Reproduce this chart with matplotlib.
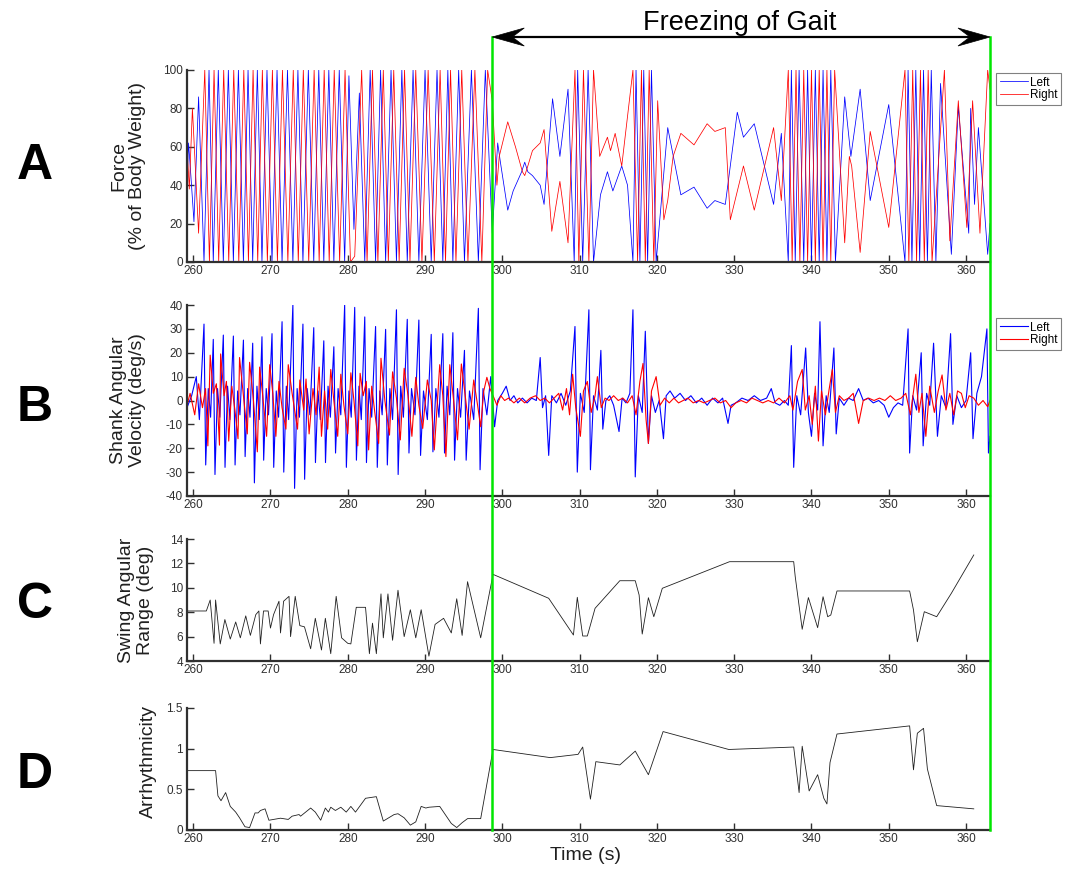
import numpy as np
import matplotlib.pyplot as plt
from matplotlib.lines import Line2D
from matplotlib.patches import Polygon
from matplotlib.transforms import IdentityTransform

plt.rcParams["font.family"] = ["Liberation Sans", "DejaVu Sans"]
plt.rcParams["axes.unicode_minus"] = False

T_START, T_END = 259.2, 363.1
FOG_START, FOG_END = 298.7, 363.1

# ---- A: vertical force, % body weight (vertices of each trace) ----
left_force = [
    (259.2, 40), (259.4, 62), (259.7, 45), (260.1, 21), (260.7, 86), (261.4, 0),
    (262.05, 100), (262.6, 0), (263.25, 100), (263.9, 0), (264.55, 100), (265.2, 0),
    (265.85, 100), (266.5, 0), (267.1, 100), (267.7, 0), (268.3, 100), (268.9, 0),
    (269.55, 100), (270.2, 0), (270.85, 100), (271.5, 0), (272.2, 100), (272.9, 0),
    (273.55, 100), (274.2, 0), (274.9, 100), (275.6, 0), (276.25, 100), (276.9, 0),
    (277.55, 100), (278.2, 0), (278.9, 100), (279.6, 0), (280.15, 97), (280.8, 17),
    (281.5, 88), (282.2, 0), (282.9, 100), (283.6, 0), (284.25, 100), (284.9, 0),
    (285.6, 100), (286.3, 0), (287.0, 100), (287.7, 0), (288.45, 100), (289.2, 0),
    (290.0, 100), (290.8, 0), (291.55, 100), (292.3, 0), (292.95, 100), (293.6, 0),
    (294.35, 100), (295.1, 0), (296.0, 100), (296.9, 0), (297.8, 100), (298.7, 15),
    (299.4, 62), (299.75, 52), (300.7, 27), (301.4, 37), (302.5, 47), (302.9, 52),
    (303.3, 47), (303.9, 45), (304.9, 40), (305.4, 30), (306.5, 85), (307.45, 55),
    (308.5, 90), (309.3, 0), (309.75, 100), (310.4, 0), (311.1, 100), (311.8, 0),
    (312.7, 35), (313.6, 47), (314.3, 37), (315.45, 50), (316.2, 40), (316.9, 0),
    (317.3, 100), (317.8, 0), (318.3, 100), (318.8, 0), (319.3, 100), (319.9, 0),
    (321.4, 70), (323.1, 35), (324.8, 39), (326.5, 28), (327.5, 32), (328.85, 30),
    (330.4, 78), (331.2, 65), (332.6, 72), (335.1, 30), (336.1, 67), (337.0, 0),
    (337.4, 100), (337.9, 0), (338.4, 100), (339.0, 0), (339.5, 100), (340.0, 0),
    (340.5, 100), (341.0, 0), (341.5, 100), (342.0, 0), (342.5, 100), (343.1, 0),
    (344.3, 86), (345.1, 55), (346.3, 90), (347.6, 32), (350.0, 82), (352.1, 0),
    (352.5, 100), (353.0, 0), (353.5, 100), (354.0, 0), (354.5, 100), (355.0, 0),
    (355.5, 100), (356.1, 0), (356.7, 93), (358.1, 4), (359.0, 81), (360.35, 15),
    (360.6, 80), (361.1, 30), (361.6, 70), (362.8, 4), (363.1, 20),
]
right_force = [
    (259.2, 60), (259.5, 38), (259.9, 80), (260.7, 15), (261.5, 100), (262.1, 0),
    (262.7, 100), (263.3, 0), (263.95, 100), (264.6, 0), (265.25, 100), (265.9, 0),
    (266.55, 100), (267.15, 0), (267.75, 100), (268.35, 0), (268.95, 100), (269.6, 0),
    (270.25, 100), (270.9, 0), (271.55, 100), (272.25, 0), (272.95, 100), (273.6, 0),
    (274.25, 100), (274.95, 0), (275.65, 100), (276.3, 0), (276.95, 100), (277.6, 0),
    (278.25, 100), (278.95, 0), (279.65, 100), (280.35, 0), (280.9, 3), (281.8, 100),
    (282.5, 0), (283.2, 100), (283.9, 0), (284.6, 100), (285.25, 0), (285.95, 100),
    (286.65, 0), (287.35, 100), (288.05, 0), (288.8, 100), (289.6, 0), (290.4, 100),
    (291.2, 0), (291.95, 100), (292.65, 0), (293.3, 100), (294.0, 0), (294.75, 100),
    (295.55, 0), (296.45, 100), (297.35, 0), (298.1, 100), (298.7, 84), (299.3, 40),
    (299.6, 55), (300.7, 73), (301.7, 60), (302.6, 47), (302.9, 45), (303.3, 50),
    (303.9, 58), (304.9, 62), (305.4, 69), (306.4, 16), (307.45, 42), (308.5, 10),
    (309.4, 100), (309.9, 0), (310.5, 100), (311.2, 0), (311.8, 100), (312.6, 55),
    (313.6, 65), (314.0, 58), (314.6, 67), (315.45, 50), (316.9, 100), (317.5, 0),
    (318.0, 100), (318.5, 0), (319.0, 100), (319.6, 0), (320.1, 84), (320.9, 22),
    (321.4, 32), (322.1, 55), (323.1, 67), (324.8, 61), (326.5, 72), (327.5, 68),
    (328.85, 70), (329.5, 22), (331.2, 50), (332.6, 27), (335.1, 70), (336.1, 32),
    (337.0, 100), (337.5, 0), (338.0, 100), (338.5, 0), (339.0, 100), (339.5, 0),
    (340.0, 100), (340.5, 0), (341.0, 100), (341.5, 0), (342.0, 100), (342.5, 0),
    (343.0, 100), (344.3, 10), (344.9, 55), (345.2, 50), (346.3, 5), (347.6, 68),
    (350.0, 18), (352.1, 100), (352.6, 0), (353.1, 100), (353.6, 0), (354.1, 100),
    (354.6, 0), (355.1, 100), (355.6, 0), (357.2, 100), (357.9, 11), (359.0, 84),
    (360.1, 18), (360.85, 84), (361.8, 15), (362.8, 100), (363.1, 90),
]

# ---- B: shank angular velocity, deg/s ----
left_gyro = [
    (259.2, -3), (259.8, 2), (260.4, 10), (260.8, -8),
    (261.4, 32), (261.62, -27), (261.95, 5), (262.25, -7),
    (262.6, 25.6), (262.82, -31), (263.15, 5), (263.45, -7),
    (263.9, 27.4), (264.12, -28), (264.45, 6), (264.75, -8),
    (265.2, 27), (265.42, -27), (265.75, 4), (266.05, -6),
    (266.5, 25.3), (266.72, -23.5), (267.05, 5), (267.35, -7),
    (267.7, 24), (267.92, -34.5), (268.25, 6), (268.55, -8),
    (268.9, 26.7), (269.12, -25), (269.45, 5), (269.75, -6),
    (270.2, 28), (270.42, -28), (270.75, 4), (271.05, -7),
    (271.5, 33), (271.72, -30), (272.05, 6), (272.35, -8),
    (272.9, 40), (273.12, -36.8), (273.45, 5), (273.75, -7),
    (274.2, 32), (274.42, -33), (274.75, 5), (275.1, -6),
    (275.6, 30.5), (275.82, -26), (276.15, 4), (276.45, -8),
    (276.9, 25), (277.12, -26), (277.45, 6), (277.75, -7),
    (278.2, 22.5), (278.42, -22), (278.75, 5), (279.1, -6),
    (279.6, 40), (279.82, -28), (280.15, 4), (280.45, -7),
    (280.9, 39), (281.12, -25), (281.45, 6), (281.75, -8),
    (282.2, 35), (282.42, -26), (282.75, 5), (283.1, -7),
    (283.6, 31), (283.82, -28), (284.15, 4), (284.45, -6),
    (284.9, 29.8), (285.12, -27), (285.45, 5), (285.8, -8),
    (286.3, 38), (286.52, -31), (286.85, 6), (287.2, -7),
    (287.7, 34), (287.92, -22), (288.25, 5), (288.7, -6),
    (289.2, 33.7), (289.42, -23), (289.8, 4), (290.3, -8),
    (290.8, 27.7), (291.02, -21.5), (291.4, 5), (291.8, -7),
    (292.3, 28), (292.52, -22), (292.85, 6), (293.2, -6),
    (293.6, 28.4), (293.82, -25), (294.2, 5), (294.6, -7),
    (295.1, 21), (295.32, -25), (295.75, 4), (296.3, -8),
    (296.9, 38.6), (297.12, -29), (297.5, 5), (298.0, -6),
    (298.5, 10), (299.0, -11), (299.4, 0), (300.0, 3), (300.5, 6), (301.0, 0),
    (301.5, 2), (302.0, -1), (302.6, 1), (303.2, -1), (303.8, 1), (304.4, 0),
    (304.9, 18), (305.2, -3), (305.6, 2), (306.0, -23), (306.4, 2), (307.0, -1),
    (307.6, 3), (308.2, -2), (308.8, 4), (309.4, 31), (309.7, -30), (310.1, 3),
    (310.6, -5), (311.2, 38), (311.4, -29), (311.8, 2), (312.3, -4), (312.75, 21),
    (313.0, -12), (313.4, 0), (313.9, 2), (314.4, -2), (315.1, -13), (315.5, 1),
    (316.0, -1), (316.5, 3), (316.9, 38), (317.2, -32), (317.6, 2), (318.1, -5),
    (318.5, 29), (318.9, -18), (319.3, 2), (319.8, -5), (320.3, 0), (320.85, -16),
    (321.2, 2), (321.7, 4), (322.3, 1), (323.0, 3), (323.7, 0), (324.4, 2),
    (325.1, -1), (325.8, 1), (326.5, -2), (327.2, 1), (327.9, -1), (328.5, 1),
    (329.2, -9.6), (329.6, -2), (330.2, -1), (331.0, 1), (331.8, 0), (332.6, 2),
    (333.4, 0), (334.2, 1), (334.8, 5), (335.3, -1), (335.9, -2), (336.5, 0),
    (337.0, -2), (337.4, 23), (337.7, -28), (338.1, 2), (338.6, -6), (339.25, 22),
    (339.6, -5), (340.0, -15), (340.4, 3), (340.8, -4), (341.1, 33), (341.5, -19),
    (341.9, 2), (342.3, -5), (342.9, 22), (343.2, -14), (343.6, 1), (344.2, -2),
    (344.8, 1), (345.4, 0), (346.1, 5), (346.7, 0), (347.3, 1), (348.0, -1),
    (348.7, 0), (349.4, -2), (350.0, -7), (350.6, -3), (351.2, -1), (351.8, -2),
    (352.5, 30), (352.7, -22), (353.1, 2), (353.6, -4), (354.2, 20), (354.45, -19),
    (354.9, 3), (355.3, -2), (355.8, 24), (356.3, -15), (356.8, 2), (357.4, -3),
    (358.0, 28), (358.3, -10), (358.8, 2), (359.4, -3), (360.0, 0), (360.6, 20),
    (360.9, -16), (361.4, 3), (362.0, 10), (362.7, 30), (362.9, -22), (363.1, -15),
]
right_gyro = [
    (259.2, -2), (259.6, 3), (260.2, -6), (260.7, 7), (261.2, -3), (261.6, 5),
    (261.9, -19), (262.2, 19), (262.6, 3), (263.0, 7), (263.4, -18.7), (263.55, 19.5),
    (264.0, 2), (264.3, 8), (264.6, -17), (265.0, 6), (265.4, -4), (265.8, -16),
    (266.0, 18), (266.5, 2), (267.0, -14), (267.3, 16), (267.8, 0), (268.3, -21.5),
    (268.6, 14), (269.0, 2), (269.5, -15), (269.9, 15), (270.3, 3), (270.7, -15),
    (271.1, 8), (271.5, -3), (272.0, -12), (272.3, 15), (272.8, 3), (273.5, -12),
    (273.8, 8.6), (274.3, -4), (274.6, 9), (275.0, -14), (275.5, 5), (275.9, -6),
    (276.3, 14), (276.6, -15), (277.0, 4), (277.4, -12), (277.8, 13), (278.2, 0),
    (278.7, -15), (279.1, 11), (279.5, -2), (280.0, -14), (280.4, 11.6), (280.8, 0),
    (281.3, -19), (281.6, 11.4), (282.0, 2), (282.4, 8), (282.7, -20.7), (283.1, 6),
    (283.5, -5), (284.0, -18), (284.3, 17.7), (284.8, 0), (285.4, -14.5), (285.8, 12),
    (286.3, 1), (286.8, -16.5), (287.3, 13.5), (287.8, 2), (288.3, -15), (288.8, 9.7),
    (289.2, -2), (289.7, -11.7), (290.3, 8.6), (290.8, 0), (291.2, -20.7), (291.9, 15),
    (292.3, 2), (292.7, -23.5), (293.2, 15), (293.7, 0), (294.2, -16.5), (294.7, 15.3),
    (295.2, 2), (295.7, -12), (296.3, 8.6), (296.8, -2), (297.2, -11), (297.6, 4),
    (298.0, 9.7), (298.4, 5), (298.8, 2), (299.3, -2), (299.8, 2), (300.3, 0),
    (300.8, 1), (301.5, -1), (302.2, 1), (302.9, -1), (303.6, 1), (304.3, 2),
    (304.9, 0), (305.5, 1), (306.1, -1), (306.7, 1), (307.3, 3), (307.8, -4),
    (308.3, 5), (308.7, -6), (309.1, 11), (309.5, -3), (310.1, -15), (310.5, 4),
    (311.0, 8), (311.5, -5), (312.0, 2), (312.3, 10), (312.8, -3), (313.3, 1),
    (313.8, 0), (314.4, 2), (315.0, 0), (315.6, 1), (316.2, -1), (316.8, 2),
    (317.3, -6), (317.8, 8), (318.2, 15.5), (318.6, -8), (318.9, -18), (319.3, 4),
    (319.9, 10), (320.4, -2), (321.0, 1), (321.6, -1), (322.2, 1), (322.8, -1),
    (323.4, 0), (324.0, 1), (324.7, -1), (325.4, 0), (326.1, -1), (326.8, 0),
    (327.5, 1), (328.2, -1), (328.9, 0), (329.6, -3), (330.2, -1), (330.9, 0),
    (331.6, -1), (332.3, 1), (333.0, 0), (333.7, -1), (334.4, 0), (335.1, -1),
    (335.8, 1), (336.5, -1), (337.2, 2), (337.6, -4), (338.2, 8), (338.8, 13),
    (339.2, -4), (339.7, 2), (340.1, -10), (340.5, 6), (340.9, -17), (341.3, 4),
    (341.8, -6), (342.3, 5), (342.7, 13), (343.1, -5), (343.6, 2), (344.2, 0),
    (344.8, 1), (345.4, 3), (346.1, -9.6), (346.7, 0), (347.4, 1), (348.1, 0),
    (348.8, 1), (349.5, 0), (350.2, 2), (350.9, 0), (351.6, 1), (352.2, 3),
    (352.8, -6), (353.5, 11), (353.9, -5), (354.3, 3), (354.8, -15), (355.3, 6),
    (355.9, -5), (356.4, 4), (356.9, 10.7), (357.4, -4), (357.9, 3), (358.4, -6),
    (358.9, 4), (359.4, 3), (359.9, -3), (360.4, 2), (361.0, 1), (361.6, -2),
    (362.2, 0), (362.8, -2.6), (363.1, 0),
]

# ---- C: swing angular range, deg ----
swing_t = [259.3, 261.7, 262.2, 262.7, 262.9, 263.5, 264.1, 264.8, 265.5, 266.1,
           266.8, 267.4, 268.1, 268.5, 268.7, 269.1, 269.7, 270.0, 270.4, 271.1,
           271.3, 271.7, 272.4, 272.6, 273.2, 273.8, 274.4, 275.2, 275.8, 276.6,
           277.1, 277.8, 278.5, 279.2, 280.0, 280.4, 281.1, 282.3, 282.8, 283.2,
           283.7, 284.3, 284.6, 285.2, 285.8, 286.5, 287.3, 288.1, 288.8, 289.5,
           290.5, 291.3, 292.4, 293.4, 294.1, 294.8, 295.5, 297.2, 298.8, 306.0,
           309.2, 309.7, 310.4, 311.0, 312.0, 315.2, 317.2, 317.7, 318.1, 318.9,
           319.6, 320.7, 329.4, 337.7, 337.9, 338.8, 339.6, 340.8, 341.5, 342.1,
           342.5, 343.3, 352.7, 353.2, 353.7, 354.6, 356.2, 358.1, 361.0]
swing_range = [8.1, 8.1, 9.0, 5.45, 9.0, 5.4, 7.4, 5.8, 7.2, 5.9,
               7.7, 6.1, 7.8, 8.1, 5.4, 8.1, 8.1, 6.7, 7.8, 8.9,
               6.3, 8.9, 9.3, 6.0, 9.3, 6.9, 6.8, 5.0, 7.5, 4.9,
               7.5, 4.6, 9.3, 5.9, 5.45, 5.4, 8.4, 8.4, 4.6, 7.1,
               4.6, 9.5, 5.9, 9.5, 5.7, 9.8, 6.0, 8.2, 5.9, 8.2,
               4.4, 7.0, 7.5, 6.3, 9.1, 6.1, 10.5, 5.9, 11.1, 9.14,
               6.13, 9.22, 6.05, 6.05, 8.32, 10.58, 10.58, 9.41, 6.21, 9.19,
               7.63, 9.96, 12.14, 12.14, 10.91, 6.6, 9.2, 6.73, 9.27, 7.63,
               7.77, 9.74, 9.74, 8.18, 5.58, 8.04, 7.63, 9.55, 12.69]

# ---- D: arrhythmicity ----
arr_t = [259.3, 262.9, 263.2, 263.6, 264.2, 264.8, 265.5, 266.0, 266.7, 267.3,
         268.0, 268.4, 268.7, 269.3, 269.8, 270.4, 271.3, 272.3, 272.8, 273.7,
         273.9, 275.2, 275.8, 276.5, 277.1, 277.5, 277.8, 278.4, 279.1, 279.8,
         280.4, 281.0, 282.3, 283.7, 284.6, 286.0, 286.5, 287.3, 288.1, 288.8,
         289.5, 290.1, 290.5, 291.9, 292.9, 293.4, 294.1, 294.8, 295.5, 297.2,
         298.8, 306.2, 309.8, 310.4, 311.4, 312.1, 315.2, 317.2, 318.9, 320.8,
         329.3, 337.7, 338.4, 338.8, 339.7, 340.8, 341.6, 342.0, 342.4, 343.3,
         352.7, 353.2, 353.7, 354.5, 355.0, 356.2, 361.0]
arrhythmicity = [0.73, 0.73, 0.42, 0.36, 0.46, 0.29, 0.22, 0.15, 0.04, 0.03,
                 0.21, 0.21, 0.24, 0.26, 0.12, 0.13, 0.145, 0.13, 0.17, 0.19,
                 0.17, 0.27, 0.22, 0.12, 0.27, 0.22, 0.28, 0.24, 0.28, 0.22,
                 0.29, 0.22, 0.39, 0.41, 0.11, 0.19, 0.20, 0.15, 0.06, 0.10,
                 0.29, 0.27, 0.28, 0.29, 0.15, 0.08, 0.03, 0.09, 0.14, 0.14,
                 0.99, 0.89, 0.93, 1.02, 0.38, 0.84, 0.80, 0.97, 0.68, 1.21,
                 0.99, 1.02, 0.46, 1.03, 0.48, 0.68, 0.39, 0.32, 0.83, 1.18,
                 1.28, 0.74, 1.19, 1.25, 0.75, 0.30, 0.26]

BLUE, RED = "#0000ff", "#ff0000"
W, H = 1075, 869


def fig_rect(left, top, right, bottom):
    return [left / W, 1 - bottom / H, (right - left) / W, (bottom - top) / H]


def style_axis(ax, ylim, yticks, yticklabels=None):
    ax.set_xlim(T_START, T_END)
    ax.set_ylim(*ylim)
    ax.set_xticks(np.arange(260, 361, 10))
    ax.set_yticks(yticks)
    if yticklabels is not None:
        ax.set_yticklabels(yticklabels)
    for side in ("top", "right"):
        ax.spines[side].set_visible(False)
    for side in ("left", "bottom"):
        ax.spines[side].set_linewidth(1.6)
        ax.spines[side].set_color("#303030")
    ax.tick_params(direction="in", length=5, width=1, color="#303030",
                   labelsize=8.5, labelcolor="#303030")
    ax.tick_params(axis="x", pad=2)
    ax.tick_params(axis="y", pad=3)
    ax.patch.set_alpha(0)


fig = plt.figure(figsize=(W / 100, H / 100), dpi=100)

ax_a = fig.add_axes(fig_rect(187, 70, 990, 262))
ax_b = fig.add_axes(fig_rect(187, 305, 990, 496))
ax_c = fig.add_axes(fig_rect(187, 539, 990, 661))
ax_d = fig.add_axes(fig_rect(187, 708, 990, 830))

lf = np.array(left_force)
rf = np.array(right_force)
ax_a.plot(lf[:, 0], lf[:, 1], color=BLUE, lw=0.55, label="Left")
ax_a.plot(rf[:, 0], rf[:, 1], color=RED, lw=0.55, label="Right")
style_axis(ax_a, (0, 100), range(0, 101, 20))

lg = np.array(left_gyro)
rg = np.array(right_gyro)
ax_b.plot(lg[:, 0], lg[:, 1], color=BLUE, lw=0.8, label="Left")
ax_b.plot(rg[:, 0], rg[:, 1], color=RED, lw=0.8, label="Right")
style_axis(ax_b, (-40, 40), range(-40, 41, 10))

ax_c.plot(swing_t, swing_range, color="#202020", lw=0.6)
style_axis(ax_c, (4, 14), range(4, 15, 2))

ax_d.plot(arr_t, arrhythmicity, color="#202020", lw=0.6)
style_axis(ax_d, (0, 1.5), [0, 0.5, 1, 1.5], ["0", "0.5", "1", "1.5"])

for ax, top_px, ax_top, ax_h in [(ax_a, 73, 70, 192), (ax_b, 318, 305, 191)]:
    leg = ax.legend(loc="upper left",
                    bbox_to_anchor=(1 + 6 / 803, 1 - (top_px - ax_top) / ax_h),
                    fontsize=8.5, frameon=True, fancybox=False,
                    borderpad=0.3, handlelength=2.4, handletextpad=0.2,
                    labelspacing=0.05, borderaxespad=0)
    leg.get_frame().set_edgecolor("#606060")
    leg.get_frame().set_linewidth(0.8)

# y-axis labels and panel letters, placed in pixel space
ylabels = [("Force\n(% of Body Weight)", 128, 166),
           ("Shank Angular\nVelocity (deg/s)", 128, 400),
           ("Swing Angular\nRange (deg)", 136, 600),
           ("Arrhythmicity", 148, 762)]
for text, x, y in ylabels:
    fig.text(x / W, 1 - y / H, text, rotation=90, ha="center", va="center",
             fontsize=14, color="#202020", linespacing=1.15)

for letter, y in [("A", 166), ("B", 408), ("C", 605), ("D", 775)]:
    fig.text(35 / W, 1 - y / H, letter, ha="center", va="center",
             fontsize=36, fontweight="bold")

fig.text(586 / W, 1 - 855 / H, "Time (s)", ha="center", va="center",
         fontsize=14, color="#202020")

# freezing-of-gait window: green bounds and double arrow
fig.canvas.draw()
x0 = ax_d.transData.transform((FOG_START, 0))[0]
x1 = ax_d.transData.transform((FOG_END, 0))[0]
y_top = H - 37
y_bot = H - 830
ident = IdentityTransform()
for x in (x0, x1):
    fig.add_artist(Line2D([x, x], [y_bot, y_top], transform=ident,
                          color="#00e600", lw=1.8, zorder=5))

fig.add_artist(Line2D([x0 + 10, x1 - 10], [y_top, y_top], transform=ident,
                      color="black", lw=1.6, zorder=6))
head_len, head_half, notch = 32, 9, 20
for tip, sign in ((x0, 1), (x1, -1)):
    verts = [(tip, y_top),
             (tip + sign * head_len, y_top + head_half),
             (tip + sign * notch, y_top),
             (tip + sign * head_len, y_top - head_half)]
    fig.add_artist(Polygon(verts, closed=True, transform=ident,
                           facecolor="black", edgecolor="black", lw=0.5,
                           zorder=6))

fig.text(740 / W, 1 - 23 / H, "Freezing of Gait", ha="center", va="center",
         fontsize=19.5)

fig.savefig("out.png", dpi=100)
